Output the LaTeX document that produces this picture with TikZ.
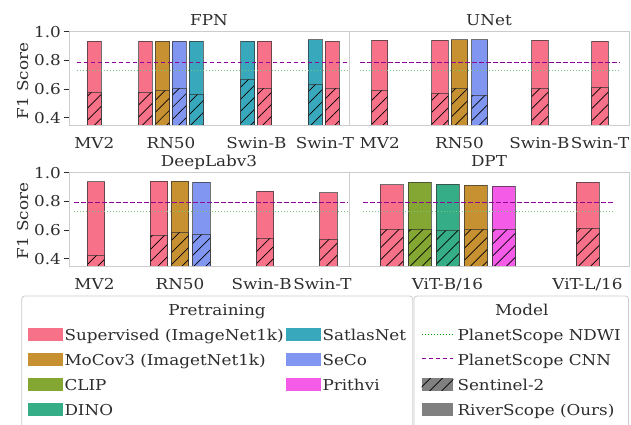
\documentclass[tikz,border=0pt]{standalone}
\usepackage{graphicx}
\usepackage{fontspec}
\setmainfont{DejaVu Serif}
\usetikzlibrary{patterns.meta}
\definecolor{cPink}{RGB}{247,113,137}
\definecolor{cGold}{RGB}{199,145,50}
\definecolor{cBlue}{RGB}{128,150,240}
\definecolor{cTeal}{RGB}{56,168,188}
\definecolor{cOlive}{RGB}{132,166,50}
\definecolor{cDino}{RGB}{53,173,135}
\definecolor{cMag}{RGB}{244,92,232}
\definecolor{cPurp}{RGB}{140,0,150}
\definecolor{cGreenL}{RGB}{120,195,130}
\definecolor{cGreen}{RGB}{0,160,0}
\definecolor{tc}{RGB}{45,45,45}
\newcommand\myfs{\fontsize{15}{17}\selectfont}
\newcommand\mylfs{\fontsize{15}{17}\selectfont}
\newcommand\sx[1]{\scalebox{1.12}[1]{#1}}
\tikzset{
  frame/.style={draw=black!20, line width=0.9pt},
  edgeln/.style={draw=black!80, line width=1pt, draw opacity=0.7},
  hatchfill/.style={pattern={Lines[angle=45,distance=8.5pt,line width=0.7pt]}, pattern color=black},
  ticklbl/.style={anchor=base east, inner sep=0pt, text=tc, font=\myfs},
  catlbl/.style={anchor=base, inner sep=0pt, text=tc, font=\myfs},
  ttl/.style={anchor=base, inner sep=0pt, text=tc, font=\myfs},
  legtxt/.style={anchor=base west, inner sep=0pt, text=tc, font=\mylfs},
  tickmk/.style={draw=tc, line width=0.9pt},
  cnnline/.style={draw=cPurp, line width=1pt, dash pattern=on 4.5pt off 2.5pt},
  ndwiline/.style={draw=cGreenL, line width=1pt, dash pattern=on 1pt off 2pt},
  legbox/.style={draw=black!20, line width=0.8pt, fill=white, rounded corners=3pt},
}
\newcommand\RB[6]{%
  \fill[#6] (#1,#3) rectangle (#2,#5);
  \draw[edgeln] (#1,#5) -- (#1,#3) -- (#2,#3) -- (#2,#5);
  \fill[hatchfill] (#1,#4) rectangle (#2,#5);
  \draw[edgeln] (#1,#5) -- (#1,#4) -- (#2,#4) -- (#2,#5);
}
\begin{document}
\begin{tikzpicture}[x=1pt,y=-1pt]
\useasboundingbox (0,0) rectangle (631,424);
\clip (0,0) rectangle (631,424);
% ---------------- top row ----------------
% FPN bars
\RB{87.3}{101.3}{41}{92.3}{125}{cPink}
\RB{138.7}{152.3}{41}{92}{125}{cPink}
\RB{155.3}{169.7}{41}{90.3}{125}{cGold}
\RB{172.3}{186.3}{41}{88}{125}{cBlue}
\RB{189.3}{203.3}{41}{94.3}{125}{cTeal}
\RB{240.7}{254.7}{41}{79}{125}{cTeal}
\RB{257.3}{271.7}{41}{88.3}{125}{cPink}
\RB{308.3}{322.3}{39.7}{84.7}{125}{cTeal}
\RB{325}{339.3}{41}{88.3}{125}{cPink}
% UNet bars
\RB{371.7}{387.7}{40.3}{90.3}{125}{cPink}
\RB{431.7}{448}{40.3}{93}{125}{cPink}
\RB{451.3}{467.7}{39.7}{88.3}{125}{cGold}
\RB{471.7}{487.7}{39.7}{95.3}{125}{cBlue}
\RB{531.7}{548}{40.3}{88}{125}{cPink}
\RB{591.7}{608.3}{41.3}{87.7}{125}{cPink}
% reference lines
\draw[ndwiline] (76.7,70.7) -- (348,70.7);
\draw[cnnline] (76.7,62) -- (348,62);
\draw[ndwiline] (360,70.7) -- (620,70.7);
\draw[cnnline] (360,62) -- (620,62);
% frames
\draw[frame] (69,31.7) rectangle (349,125);
\draw[frame] (349,31.7) rectangle (629,125);
% ticks
\foreach \v/\y in {1.0/31.7,0.8/60.4,0.6/89.1,0.4/117.8}{
  \draw[tickmk] (63.5,\y) -- (69,\y);
  \node[ticklbl] at (61,\y+5.3) {\sx{\v}};
}
\node[rotate=90, anchor=base, inner sep=0pt, text=tc, font=\myfs] (yl1) at (28,81) {\sx{F1 Score}};
\node[ttl] (t1) at (209,25.7) {\sx{FPN}};
\node[ttl] (t2) at (489,25.7) {\sx{UNet}};
\node[catlbl] at (94.3,148.7) {\sx{MV2}};
\node[catlbl] at (171,148.7) {\sx{RN50}};
\node[catlbl] at (256.5,148.7) {\sx{Swin-B}};
\node[catlbl] at (325,148.7) {\sx{Swin-T}};
\node[catlbl] at (379.7,148.7) {\sx{MV2}};
\node[catlbl] at (459.5,148.7) {\sx{RN50}};
\node[catlbl] at (539.5,148.7) {\sx{Swin-B}};
\node[catlbl] at (600,148.7) {\sx{Swin-T}};
% ---------------- bottom row ----------------
\RB{87.3}{104.7}{181.7}{255.3}{266}{cPink}
\RB{150.3}{167.7}{181.3}{235.3}{266}{cPink}
\RB{171.3}{188.7}{181}{232.3}{266}{cGold}
\RB{192.7}{210}{182.3}{234.3}{266}{cBlue}
\RB{256.7}{273.7}{191.3}{238.7}{266}{cPink}
\RB{319.7}{337}{192.7}{239}{266}{cPink}
% DPT
\RB{380.3}{403}{184.7}{229.3}{266}{cPink}
\RB{408.3}{431}{182}{229}{266}{cOlive}
\RB{436.3}{459}{184}{230}{266}{cDino}
\RB{464.3}{487}{185.3}{229.7}{266}{cGold}
\RB{492.3}{515}{186}{229.7}{266}{cMag}
\RB{576.3}{599.3}{182.3}{228.3}{266}{cPink}
\draw[ndwiline] (74,211.5) -- (348,211.5);
\draw[cnnline] (74,202.6) -- (348,202.6);
\draw[ndwiline] (363.3,211.5) -- (615,211.5);
\draw[cnnline] (363.3,202.6) -- (615,202.6);
\draw[frame] (69,172.7) rectangle (349,266);
\draw[frame] (349,172.7) rectangle (629,266);
\foreach \v/\y in {1.0/172.7,0.8/201.4,0.6/230.1,0.4/258.8}{
  \draw[tickmk] (63.5,\y) -- (69,\y);
  \node[ticklbl] at (61,\y+5.3) {\sx{\v}};
}
\node[rotate=90, anchor=base, inner sep=0pt, text=tc, font=\myfs] (yl2) at (28,221) {\sx{F1 Score}};
\node[ttl] (t3) at (209,166.7) {\sx{DeepLabv3}};
\node[ttl] (t4) at (489,166.7) {\sx{DPT}};
\node[catlbl] at (94.5,289.7) {\sx{MV2}};
\node[catlbl] at (180,289.7) {\sx{RN50}};
\node[catlbl] at (261.7,289.7) {\sx{Swin-B}};
\node[catlbl] at (322.5,289.7) {\sx{Swin-T}};
\node[catlbl] at (447.5,289.7) {\sx{ViT-B/16}};
\node[catlbl] at (587.5,289.7) {\sx{ViT-L/16}};
% ---------------- legends ----------------
\draw[legbox] (21.7,296) rectangle (412.7,428);
\node[ttl, font=\mylfs] (lt1) at (217,315.7) {\sx{Pretraining}};
\foreach \c/\t/\y in {cPink/Supervised (ImageNet1k)/334.5, cGold/MoCov3 (ImagetNet1k)/359.4, cOlive/CLIP/384.3, cDino/DINO/409.2}{
  \fill[\c] (28,\y-6.3) rectangle (62.7,\y+6.3);
  \node[legtxt] at (64.3,\y+6) {\sx{\t}};
}
\foreach \c/\t/\y in {cTeal/SatlasNet/334.5, cBlue/SeCo/359.4, cMag/Prithvi/384.3}{
  \fill[\c] (286.3,\y-6.3) rectangle (320.7,\y+6.3);
  \node[legtxt] at (322.3,\y+6) {\sx{\t}};
}
\draw[legbox] (414,296) rectangle (628.5,428);
\node[ttl, font=\mylfs] (lt2) at (521.7,315.7) {\sx{Model}};
\draw[ndwiline, draw=cGreen] (421.7,334.5) -- (453.3,334.5);
\node[legtxt] at (457.3,340.5) {\sx{PlanetScope NDWI}};
\draw[cnnline] (421.7,358.8) -- (453.3,358.8);
\node[legtxt] at (457.3,365.4) {\sx{PlanetScope CNN}};
\fill[gray] (421.7,378) rectangle (453.3,390.6);
\fill[hatchfill] (421.7,378) rectangle (453.3,390.6);
\node[legtxt] at (457.3,390.3) {\sx{Sentinel-2}};
\fill[gray] (421.7,402.9) rectangle (453.3,415.5);
\node[legtxt] at (457.3,415.2) {\sx{RiverScope (Ours)}};
\end{tikzpicture}
\end{document}
